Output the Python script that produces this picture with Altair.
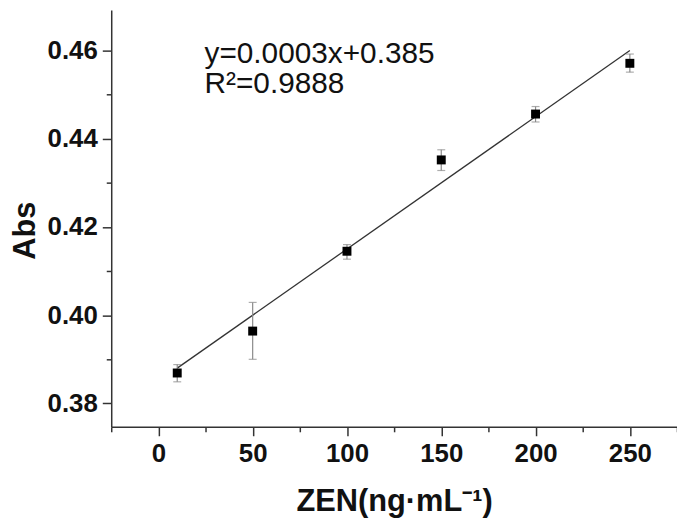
import altair as alt
import pandas as pd

# Data
conc = [10, 50, 100, 150, 200, 250]
absorb = [0.3869, 0.3964, 0.4145, 0.4352, 0.4456, 0.4571]
err_lo = [0.3849, 0.3900, 0.4127, 0.4328, 0.4438, 0.4551]
err_hi = [0.3888, 0.4029, 0.4160, 0.4375, 0.4473, 0.4592]

fit_x = [10, 250]
fit_y = [0.388, 0.460]

x_major = [0, 50, 100, 150, 200, 250]
x_minor = [-25, 25, 75, 125, 175, 225, 275]
y_major = [0.38, 0.40, 0.42, 0.44, 0.46]
y_minor = [0.39, 0.41, 0.43, 0.45]

eq_text = "y=0.0003x+0.385"
r2_text = "R\u00b2=0.9888"

X_DOMAIN = [-25, 275]
Y_DOMAIN = [0.3747, 0.4692]

df = pd.DataFrame({"x": conc, "y": absorb, "lo": err_lo, "hi": err_hi})
fit = pd.DataFrame({"x": fit_x, "y": fit_y})

FONT = "Liberation Sans"
AX = "#333333"

xs = alt.Scale(domain=X_DOMAIN, nice=False, zero=False)
ys = alt.Scale(domain=Y_DOMAIN, nice=False, zero=False)

x_axis = alt.Axis(values=x_major, title="ZEN(ng\u00b7mL\u207b\u00b9)", grid=False,
                  tickSize=9, tickWidth=1.5, tickColor=AX, domainColor=AX, domainWidth=1.5,
                  labelFont=FONT, labelFontSize=26, labelFontWeight="bold", labelColor="#111",
                  labelPadding=5, labelFlush=False,
                  titleFont=FONT, titleFontSize=31, titleFontWeight="bold", titleColor="#111",
                  titlePadding=20, orient="bottom")
y_axis = alt.Axis(values=y_major, format=".2f", title="Abs", grid=False,
                  tickSize=9, tickWidth=1.5, tickColor=AX, domainColor=AX, domainWidth=1.5,
                  labelFont=FONT, labelFontSize=26, labelFontWeight="bold", labelColor="#111",
                  labelPadding=5, labelFlush=False,
                  titleFont=FONT, titleFontSize=31, titleFontWeight="bold", titleColor="#111",
                  titleAngle=-90, titleX=-86, titleY=222, titleBaseline="middle",
                  titleAlign="center", orient="left")

base = alt.Chart(df)

fit_line = alt.Chart(fit).mark_line(color="#333333", strokeWidth=1.3).encode(
    x=alt.X("x:Q", scale=xs, axis=x_axis),
    y=alt.Y("y:Q", scale=ys, axis=y_axis),
)
err_rule = base.mark_rule(color="#8a8a8a", strokeWidth=1.2).encode(
    x="x:Q", y="lo:Q", y2="hi:Q")
cap_lo = base.mark_tick(color="#8a8a8a", size=8, thickness=1.2, orient="horizontal").encode(
    x="x:Q", y="lo:Q")
cap_hi = base.mark_tick(color="#8a8a8a", size=8, thickness=1.2, orient="horizontal").encode(
    x="x:Q", y="hi:Q")
pts = base.mark_square(size=81, color="black", opacity=1).encode(x="x:Q", y="y:Q")

txt1 = alt.Chart(pd.DataFrame({"t": [eq_text]})).mark_text(
    font=FONT, fontSize=30, align="left", baseline="alphabetic", color="#111").encode(
    text="t:N", x=alt.value(94), y=alt.value(53))
txt2 = alt.Chart(pd.DataFrame({"t": [r2_text]})).mark_text(
    font=FONT, fontSize=30, align="left", baseline="alphabetic", color="#111").encode(
    text="t:N", x=alt.value(94), y=alt.value(84))

main = alt.layer(fit_line, err_rule, cap_lo, cap_hi, pts, txt1, txt2)

minor = base.mark_point(opacity=0).encode(
    x=alt.X("x:Q", scale=xs, axis=alt.Axis(values=x_minor, labels=False, domain=False, grid=False,
                                            tickSize=5, tickWidth=1.5, tickColor=AX, title=None,
                                            orient="bottom")),
    y=alt.Y("y:Q", scale=ys, axis=alt.Axis(values=y_minor, labels=False, domain=False, grid=False,
                                            tickSize=5, tickWidth=1.5, tickColor=AX, title=None,
                                            orient="left")),
)

chart = alt.layer(main, minor).resolve_axis(x="independent", y="independent").properties(
    width=570, height=420,
    autosize=alt.AutoSizeParams(type="none"),
    padding={"left": 104, "top": 0, "right": 0, "bottom": 100},
    background="white",
).configure_view(stroke=None)

chart.save("out.html", embed_options={"renderer": "svg", "actions": False})
